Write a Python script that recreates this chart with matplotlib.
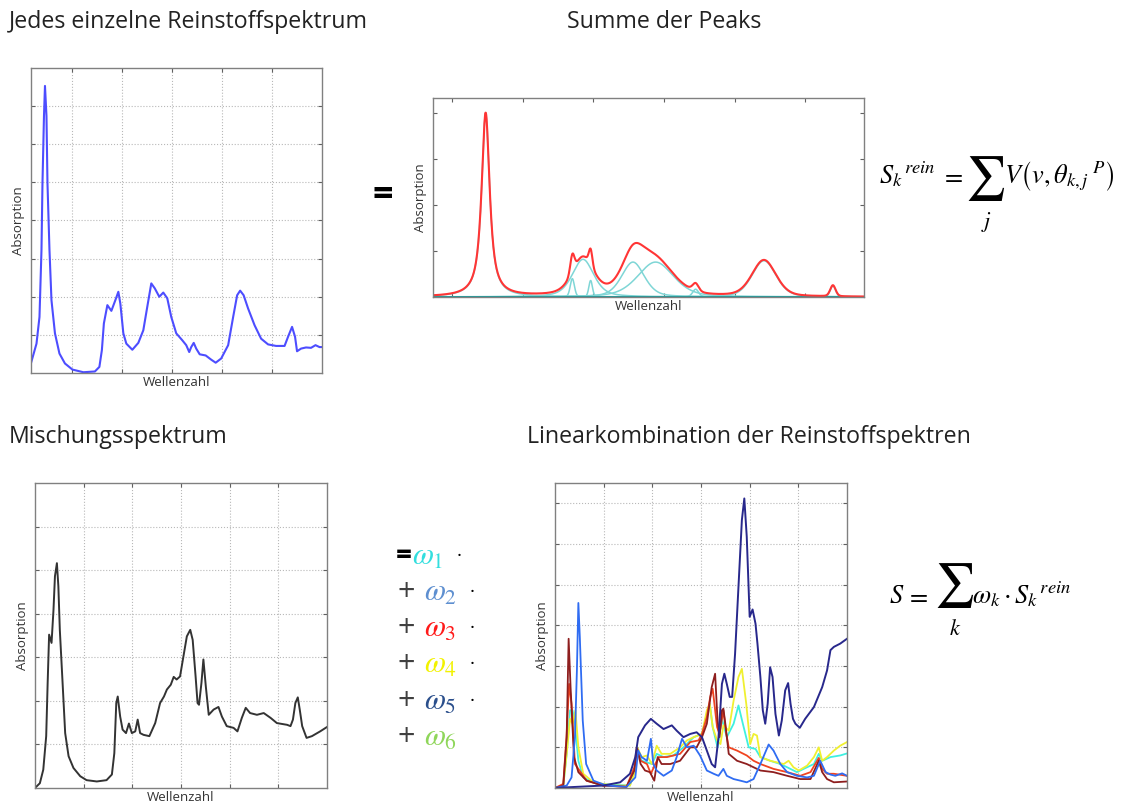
import numpy as np
import matplotlib
matplotlib.use('Agg')
import matplotlib.pyplot as plt

plt.rcParams['font.family'] = ['Open Sans', 'DejaVu Sans']
plt.rcParams['mathtext.fontset'] = 'stix'

# --- Reinstoffspektrum (blau) ---
pure_x = [0.17, 0.28, 0.34, 0.38, 0.40, 0.43, 0.45, 0.48, 0.50, 0.54, 0.58, 0.65, 0.74, 0.85,
          1.00, 1.22, 1.45, 1.54, 1.59, 1.63, 1.70, 1.78, 1.86, 1.92, 1.96, 2.02, 2.08, 2.20,
          2.32, 2.42, 2.50, 2.58, 2.65, 2.74, 2.82, 2.90, 2.98, 3.08, 3.20, 3.28, 3.34, 3.38,
          3.43, 3.48, 3.55, 3.67, 3.78, 3.87, 3.98, 4.12, 4.22, 4.30, 4.36, 4.43, 4.52, 4.65,
          4.78, 4.92, 5.08, 5.25, 5.32, 5.40, 5.46, 5.50, 5.58, 5.68, 5.78, 5.87, 5.95, 6.00]
pure_y = [0.26, 0.77, 1.47, 3.23, 4.98, 6.74, 7.53, 6.74, 4.98, 3.23, 1.91, 1.04, 0.51, 0.25,
          0.09, 0.02, 0.04, 0.16, 0.60, 1.30, 1.78, 1.63, 1.91, 2.13, 1.82, 1.04, 0.77, 0.61,
          0.79, 1.12, 1.74, 2.35, 2.22, 2.00, 2.11, 1.96, 1.47, 1.04, 0.86, 0.73, 0.55, 0.68,
          0.79, 0.64, 0.49, 0.46, 0.35, 0.27, 0.38, 0.73, 1.47, 2.04, 2.16, 2.04, 1.69, 1.25,
          0.90, 0.75, 0.71, 0.71, 0.95, 1.21, 0.95, 0.57, 0.64, 0.67, 0.66, 0.73, 0.68, 0.68]

# --- Peaks (Zentrum, Hoehe, Breite, Lorentz-Anteil) ---
peak_center = [1.475, 2.702, 2.853, 2.961, 3.56, 3.88, 4.447, 5.414, 6.39]
peak_height = [4.0, 0.40, 0.82, 0.36, 0.76, 0.76, 0.17, 0.79, 0.24]
peak_width = [0.137, 0.07, 0.36, 0.06, 0.38, 0.60, 0.10, 0.40, 0.09]
peak_eta = [0.9, 0.2, 0.5, 0.2, 0.4, 0.4, 0.3, 0.3, 0.2]

# --- Mischungsspektrum (schwarz) ---
mix_x = [0, 0.10, 0.17, 0.23, 0.26, 0.29, 0.34, 0.38, 0.41, 0.45, 0.48, 0.51, 0.56, 0.62,
         0.69, 0.79, 0.93, 1.06, 1.27, 1.47, 1.58, 1.63, 1.67, 1.70, 1.75, 1.80, 1.87, 1.93,
         1.99, 2.06, 2.11, 2.16, 2.23, 2.35, 2.47, 2.57, 2.65, 2.71, 2.79, 2.85, 2.91, 2.98,
         3.05, 3.12, 3.19, 3.24, 3.30, 3.34, 3.37, 3.42, 3.46, 3.51, 3.57, 3.67, 3.77, 3.84,
         3.94, 4.08, 4.16, 4.25, 4.33, 4.42, 4.56, 4.70, 4.84, 4.97, 5.18, 5.25, 5.30, 5.35,
         5.40, 5.44, 5.49, 5.58, 5.69, 5.86, 6.00]
mix_y = [0, 0.11, 0.42, 1.19, 2.41, 3.52, 3.33, 4.09, 4.86, 5.16, 4.63, 3.63, 2.56, 1.26,
         0.73, 0.46, 0.27, 0.18, 0.15, 0.18, 0.31, 0.80, 1.95, 2.10, 1.64, 1.34, 1.26, 1.48,
         1.26, 1.30, 1.57, 1.26, 1.22, 1.19, 1.49, 1.95, 2.10, 2.26, 2.37, 2.55, 2.49, 2.56,
         3.02, 3.48, 3.63, 3.40, 2.56, 1.95, 1.91, 2.41, 2.95, 2.33, 1.68, 1.80, 1.86, 1.64,
         1.42, 1.38, 1.30, 1.61, 1.84, 1.72, 1.68, 1.72, 1.61, 1.49, 1.45, 1.42, 1.57, 1.95,
         2.08, 1.80, 1.42, 1.15, 1.19, 1.30, 1.40]

# --- Reinstoffspektren der Linearkombination ---
navy_x = [0, 0.31, 0.99, 1.34, 1.54, 1.65, 1.71, 1.85, 1.97, 2.09, 2.23, 2.40, 2.50, 2.64,
          2.78, 2.91, 3.02, 3.12, 3.22, 3.29, 3.36, 3.43, 3.48, 3.53, 3.59, 3.64, 3.70, 3.77,
          3.84, 3.89, 3.94, 4.00, 4.06, 4.12, 4.16, 4.22, 4.27, 4.32, 4.37, 4.42, 4.47, 4.53,
          4.60, 4.66, 4.73, 4.79, 4.84, 4.89, 4.94, 5.03, 5.14, 5.32, 5.49, 5.59, 5.66, 5.73,
          5.86, 6.00]
navy_y = [0, 0.02, 0.06, 0.14, 0.35, 0.76, 1.25, 1.54, 1.70, 1.58, 1.45, 1.54, 1.41, 1.25,
          1.33, 1.37, 1.25, 0.92, 0.59, 0.51, 1.25, 2.56, 2.81, 2.56, 2.24, 2.24, 3.30, 4.95,
          6.59, 7.12, 6.18, 4.21, 4.39, 4.04, 3.55, 2.73, 1.91, 1.58, 2.07, 2.97, 2.73, 1.82,
          1.29, 1.66, 2.40, 2.58, 2.07, 1.70, 1.58, 1.48, 1.70, 1.99, 2.48, 2.89, 3.39, 3.47,
          3.55, 3.67]
blue_x = [0, 0.24, 0.34, 0.41, 0.45, 0.48, 0.51, 0.57, 0.64, 0.79, 1.06, 1.47, 1.65, 1.71,
          1.78, 1.89, 1.97, 2.02, 2.09, 2.23, 2.40, 2.50, 2.61, 2.71, 2.85, 2.98, 3.12, 3.26,
          3.36, 3.46, 3.53, 3.67, 3.81, 3.94, 4.08, 4.22, 4.39, 4.49, 4.63, 4.77, 4.97, 5.18,
          5.32, 5.45, 5.56, 5.66, 5.76, 5.90, 6.00]
blue_y = [0, 0.06, 0.26, 1.25, 2.89, 4.55, 3.71, 1.66, 0.59, 0.18, 0.06, 0.03, 0.26, 0.92,
          0.76, 0.67, 1.21, 0.59, 0.43, 0.30, 0.43, 0.76, 1.21, 1.00, 1.04, 0.80, 0.43, 0.35,
          0.30, 0.47, 0.30, 0.22, 0.18, 0.14, 0.22, 0.59, 1.07, 0.92, 0.59, 0.39, 0.30, 0.26,
          0.30, 0.67, 0.39, 0.33, 0.30, 0.36, 0.30]
darkred_x = [0, 0.17, 0.24, 0.28, 0.32, 0.39, 0.48, 0.65, 0.99, 1.47, 1.63, 1.69, 1.76, 1.85,
             1.95, 2.04, 2.11, 2.19, 2.37, 2.57, 2.78, 2.91, 3.02, 3.12, 3.22, 3.29, 3.34, 3.38,
             3.43, 3.46, 3.50, 3.57, 3.74, 3.94, 4.08, 4.22, 4.49, 4.77, 5.04, 5.25, 5.42, 5.49,
             5.59, 5.73, 6.00]
darkred_y = [0, 0.06, 1.25, 3.67, 2.48, 0.76, 0.39, 0.18, 0.06, 0.03, 0.43, 0.96, 0.59, 0.43,
             0.39, 0.18, 0.76, 0.59, 0.59, 0.67, 1.00, 1.00, 1.25, 1.58, 2.48, 2.81, 1.66, 1.25,
             1.91, 1.95, 1.58, 0.84, 0.67, 0.59, 0.51, 0.43, 0.39, 0.30, 0.22, 0.22, 0.67, 0.39,
             0.22, 0.14, 0.16]
orange_x = [0, 0.17, 0.24, 0.29, 0.34, 0.41, 0.65, 0.99, 1.47, 1.63, 1.68, 1.76, 1.89, 1.97,
            2.06, 2.13, 2.30, 2.57, 2.78, 2.95, 3.02, 3.12, 3.19, 3.24, 3.33, 3.38, 3.46, 3.52,
            3.57, 3.74, 3.94, 4.08, 4.22, 4.49, 4.77, 5.04, 5.25, 5.42, 5.49, 5.59, 5.73, 6.00]
orange_y = [0, 0.10, 1.33, 2.56, 2.07, 0.59, 0.18, 0.06, 0.03, 0.51, 1.00, 0.67, 0.59, 0.35,
            0.59, 0.76, 0.76, 0.84, 1.13, 1.17, 1.33, 1.74, 2.24, 2.44, 1.50, 1.33, 1.91, 1.33,
            1.00, 0.92, 0.80, 0.67, 0.59, 0.47, 0.39, 0.30, 0.39, 0.74, 0.47, 0.35, 0.35, 0.30]
yellow_x = [0, 0.17, 0.24, 0.31, 0.36, 0.42, 0.48, 0.58, 0.79, 1.20, 1.54, 1.65, 1.69, 1.78,
            1.89, 1.99, 2.09, 2.19, 2.37, 2.57, 2.71, 2.85, 3.02, 3.12, 3.18, 3.24, 3.33, 3.40,
            3.46, 3.57, 3.67, 3.77, 3.84, 3.93, 4.01, 4.08, 4.15, 4.22, 4.42, 4.56, 4.70, 4.80,
            4.90, 5.01, 5.18, 5.32, 5.42, 5.49, 5.59, 5.73, 5.86, 6.00]
yellow_y = [0, 0.06, 0.84, 1.70, 1.58, 1.91, 1.00, 0.35, 0.14, 0.06, 0.06, 0.43, 1.00, 0.76,
            0.80, 0.59, 1.04, 0.84, 0.84, 1.00, 1.17, 1.25, 1.33, 1.91, 2.07, 1.50, 1.17, 1.08,
            1.54, 1.41, 2.15, 2.73, 2.93, 2.07, 1.08, 1.33, 1.29, 0.76, 0.67, 0.63, 0.59, 0.67,
            0.51, 0.43, 0.55, 0.76, 1.00, 0.67, 0.76, 0.92, 1.04, 1.13]
cyan_x = [0, 0.17, 0.24, 0.31, 0.36, 0.41, 0.48, 0.58, 0.86, 1.54, 1.65, 1.69, 1.78, 1.89,
          1.99, 2.09, 2.23, 2.43, 2.64, 2.85, 3.02, 3.12, 3.18, 3.24, 3.34, 3.43, 3.53, 3.67,
          3.77, 3.86, 3.98, 4.12, 4.22, 4.42, 4.63, 4.77, 4.97, 5.18, 5.32, 5.42, 5.49, 5.66,
          5.86, 6.00]
cyan_y = [0, 0.06, 0.84, 1.91, 1.91, 1.58, 0.67, 0.26, 0.10, 0.06, 0.51, 1.00, 0.67, 0.63,
          0.59, 0.84, 0.76, 0.80, 1.00, 1.25, 1.33, 1.82, 2.07, 1.50, 1.00, 1.70, 1.25, 1.58,
          2.03, 1.58, 1.00, 0.96, 0.76, 0.67, 0.59, 0.51, 0.39, 0.51, 0.59, 0.84, 0.67, 0.76,
          0.80, 0.85]

omega_colors = ['#33dede', '#5e8fd0', '#ff1a1a', '#f2f200', '#2b4f8c', '#8fd65a']

W, H = 1121, 809
fig = plt.figure(figsize=(W / 100, H / 100), dpi=100)


def px_axes(l, t, r, b):
    return fig.add_axes([l / W, 1 - b / H, (r - l) / W, (b - t) / H])


def ftext(x, y, s, **kw):
    # Text in Pixelkoordinaten der Abbildung (y von oben)
    return fig.text(x / W, 1 - y / H, s, **kw)


def style(ax, grid=True):
    for s in ax.spines.values():
        s.set_color('#808080')
        s.set_linewidth(1.0)
    ax.tick_params(direction='in', length=3, width=0.8, color='#606060',
                   top=True, right=True, labelbottom=False, labelleft=False)
    if grid:
        ax.grid(True, linestyle=':', color='#b8b8b8', linewidth=0.8)
    ax.set_xlabel('Wellenzahl', fontsize=9.5, color='#333333', labelpad=2)
    ax.set_ylabel('Absorption', fontsize=9.5, color='#333333', labelpad=4)


# Panel 1
ax1 = px_axes(31, 68, 322, 373)
ax1.plot(pure_x, pure_y, color='#4d4dff', lw=1.5)
ax1.set_xlim(0.17, 6.0)
ax1.set_ylim(0, 8)
ax1.set_xticks([1, 2, 3, 4, 5])
ax1.set_yticks(range(1, 8))
style(ax1)

# Panel 2
ax2 = px_axes(433, 98, 864, 297)
xs = np.linspace(0.73, 6.83, 1200)
total = np.zeros_like(xs)
for c, h, w, eta in zip(peak_center, peak_height, peak_width, peak_eta):
    d = (xs - c) / w
    comp = h * (eta / (1 + 4 * d ** 2) + (1 - eta) * np.exp(-4 * np.log(2) * d ** 2))
    total += comp
    ax2.plot(xs, comp, color='#7fd6d6', lw=1.1)
ax2.axhline(0.01, color='#1f9c9c', lw=2.2)
ax2.plot(xs, total, color='#ff3535', lw=1.5)
ax2.set_xlim(0.73, 6.83)
ax2.set_ylim(0, 4.33)
ax2.set_xticks(range(1, 7))
ax2.set_yticks(range(1, 5))
style(ax2, grid=False)

# Panel 3
ax3 = px_axes(35, 483, 327, 788)
ax3.plot(mix_x, mix_y, color='#333333', lw=1.4)
ax3.set_xlim(0, 6)
ax3.set_ylim(0, 7)
ax3.set_xticks(range(1, 6))
ax3.set_yticks(range(1, 7))
style(ax3)

# Panel 4
ax4 = px_axes(555, 483, 847, 788)
ax4.plot(cyan_x, cyan_y, color='#3ff0e0', lw=1.3)
ax4.plot(yellow_x, yellow_y, color='#f0f030', lw=1.3)
ax4.plot(orange_x, orange_y, color='#f04420', lw=1.3)
ax4.plot(darkred_x, darkred_y, color='#8e1e1e', lw=1.3)
ax4.plot(blue_x, blue_y, color='#2f6cf2', lw=1.3)
ax4.plot(navy_x, navy_y, color='#28288c', lw=1.4)
ax4.set_xlim(0, 6)
ax4.set_ylim(0, 7.5)
ax4.set_xticks(range(1, 6))
ax4.set_yticks(range(1, 8))
style(ax4)

# Titel
tk = dict(fontsize=16.7, color='#222222', va='center')
ftext(9, 22, 'Jedes einzelne Reinstoffspektrum', ha='left', **tk)
ftext(664, 22, 'Summe der Peaks', ha='center', **tk)
ftext(9, 437, 'Mischungsspektrum', ha='left', **tk)
ftext(527, 437, 'Linearkombination der Reinstoffspektren', ha='left', **tk)

ftext(383, 196, '=', fontsize=26, fontweight='bold', ha='center', va='center')

# Formel 1
mt = dict(fontsize=19, ha='left', va='baseline')
sg = dict(fontsize=32, ha='center', va='baseline', family='STIXGeneral')
ftext(879, 183, r'${S_k}^{\,rein}$', **mt)
ftext(941, 183, r'$=$', **mt)
ftext(986, 190, '\u2211', **sg)
ftext(986, 227, r'$j$', fontsize=16, ha='center', va='baseline')
ftext(1004, 183, r'$V\left(v,{\theta_{k,j}}^{\;P}\right)$', **mt)

# Formel 2
ftext(889, 603, r'$S$', **mt)
ftext(906, 603, r'$=$', **mt)
ftext(955, 597, '\u2211', **sg)
ftext(955, 635, r'$k$', fontsize=16, ha='center', va='baseline')
ftext(972, 603, r'$\omega_k \cdot {S_k}^{\,rein}$', **mt)

# omega-Spalte
row_y = [557, 593, 629, 665, 702, 738]
for i, (yy, col) in enumerate(zip(row_y, omega_colors)):
    if i == 0:
        ftext(404, yy, '=', fontsize=20, ha='center', va='center', color='black',
              fontweight='bold')
        x_w = 412
    else:
        ftext(406, yy, '+', fontsize=22, ha='center', va='center', color='#404040')
        x_w = 424
    ftext(x_w, yy, r'$\omega_{%d}$' % (i + 1), fontsize=22, color=col,
          ha='left', va='center')
    if i < 5:
        ftext(459 if i == 0 else 472, yy - 1, '·', fontsize=14, ha='center', va='center')

fig.savefig('out.png', dpi=100)
